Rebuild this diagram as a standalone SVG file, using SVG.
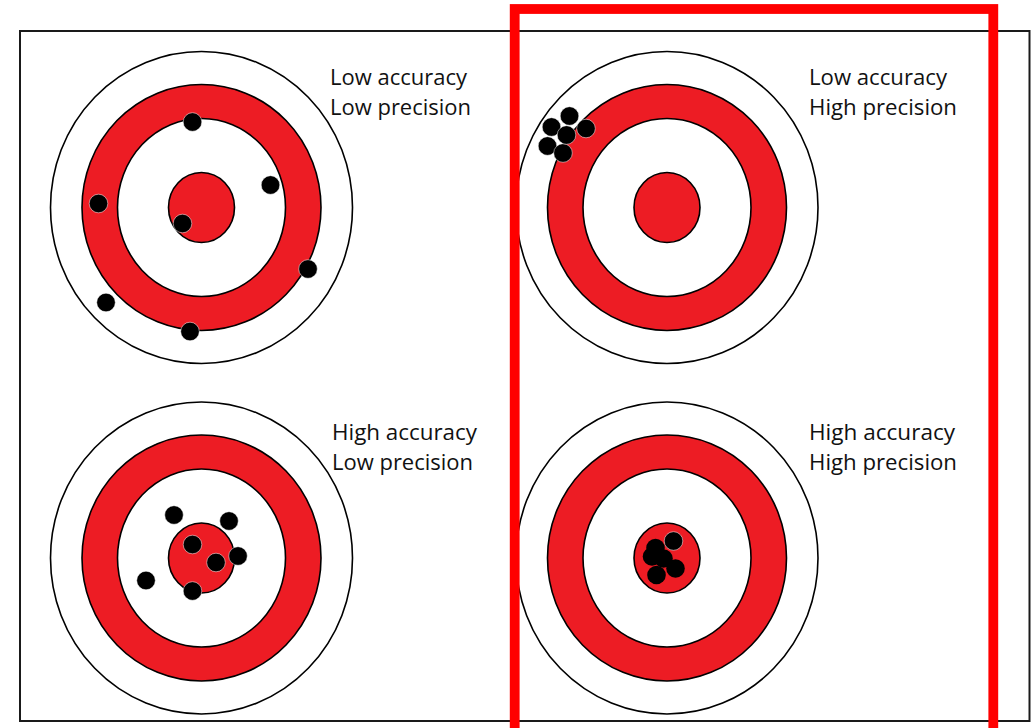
<svg xmlns="http://www.w3.org/2000/svg" width="1033" height="728" viewBox="0 0 1033 728">
<style>
.ring{stroke:#000;stroke-width:1.6}
.w{fill:#fff}
.r{fill:#ED1C24}
.dot{fill:#000;stroke:#fff;stroke-width:0.5}
.dot2{fill:#000}
.lbl{font-family:"Open Sans","Liberation Sans",sans-serif;font-size:21.5px;fill:#111}
</style>
<defs>
<g id="target">
<ellipse class="ring w" cx="0" cy="0" rx="151" ry="156"/>
<ellipse class="ring r" cx="0" cy="0" rx="119.5" ry="123"/>
<ellipse class="ring w" cx="0" cy="0" rx="84" ry="89"/>
<ellipse class="ring r" cx="0" cy="0" rx="33" ry="35"/>
</g>
</defs>
<rect x="0" y="0" width="1033" height="728" fill="#fff"/>
<rect id="frame" x="20" y="31" width="1009.5" height="690" fill="#fff" stroke="#1a1a1a" stroke-width="2"/>
<g id="target-low-acc-low-prec">
<use href="#target" x="201.5" y="207.5"/>
<circle class="dot" cx="192.5" cy="122" r="9.3"/>
<circle class="dot" cx="270.5" cy="185" r="9.3"/>
<circle class="dot" cx="98.5" cy="203.5" r="9.3"/>
<circle class="dot" cx="182.5" cy="223.5" r="9.3"/>
<circle class="dot" cx="308" cy="269" r="9.3"/>
<circle class="dot" cx="106" cy="302.5" r="9.3"/>
<circle class="dot" cx="190" cy="331.5" r="9.3"/>
<text class="lbl" x="330" y="84.5" textLength="137" lengthAdjust="spacingAndGlyphs">Low accuracy</text>
<text class="lbl" x="330" y="114.5" textLength="141" lengthAdjust="spacingAndGlyphs">Low precision</text>
</g>
<g id="target-low-acc-high-prec">
<use href="#target" x="667" y="207.5"/>
<circle class="dot" cx="569.5" cy="116" r="9.3"/>
<circle class="dot" cx="551.5" cy="127" r="9.3"/>
<circle class="dot" cx="586" cy="128.5" r="9.3"/>
<circle class="dot" cx="547.5" cy="146" r="9.3"/>
<circle class="dot" cx="563" cy="153" r="9.3"/>
<circle class="dot" cx="566.5" cy="135" r="9.3"/>
<text class="lbl" x="809" y="84.5" textLength="138" lengthAdjust="spacingAndGlyphs">Low accuracy</text>
<text class="lbl" x="809" y="114.5" textLength="148" lengthAdjust="spacingAndGlyphs">High precision</text>
</g>
<g id="target-high-acc-low-prec">
<use href="#target" x="201.5" y="558"/>
<circle class="dot" cx="174" cy="515" r="9.3"/>
<circle class="dot" cx="229" cy="521" r="9.3"/>
<circle class="dot" cx="192.5" cy="544.5" r="9.3"/>
<circle class="dot" cx="238" cy="556" r="9.3"/>
<circle class="dot" cx="216" cy="562.5" r="9.3"/>
<circle class="dot" cx="146" cy="580.5" r="9.3"/>
<circle class="dot" cx="192.5" cy="591" r="9.3"/>
<text class="lbl" x="332" y="440" textLength="145" lengthAdjust="spacingAndGlyphs">High accuracy</text>
<text class="lbl" x="332" y="470" textLength="141" lengthAdjust="spacingAndGlyphs">Low precision</text>
</g>
<g id="target-high-acc-high-prec">
<use href="#target" x="667" y="558"/>
<circle class="dot2" cx="663.5" cy="558.5" r="9.3"/>
<circle class="dot" cx="673.5" cy="541" r="9.3"/>
<circle class="dot2" cx="655.5" cy="548" r="9.3"/>
<circle class="dot2" cx="652" cy="556.5" r="9.3"/>
<circle class="dot2" cx="675.5" cy="568.5" r="9.3"/>
<circle class="dot2" cx="656.5" cy="575" r="9.3"/>
<text class="lbl" x="809" y="440" textLength="146" lengthAdjust="spacingAndGlyphs">High accuracy</text>
<text class="lbl" x="809" y="470" textLength="148" lengthAdjust="spacingAndGlyphs">High precision</text>
</g>
<g id="connectors"></g>
<rect id="highlight" x="514.7" y="9" width="478.6" height="800" fill="none" stroke="#ff0000" stroke-width="9.8"/>
</svg>
